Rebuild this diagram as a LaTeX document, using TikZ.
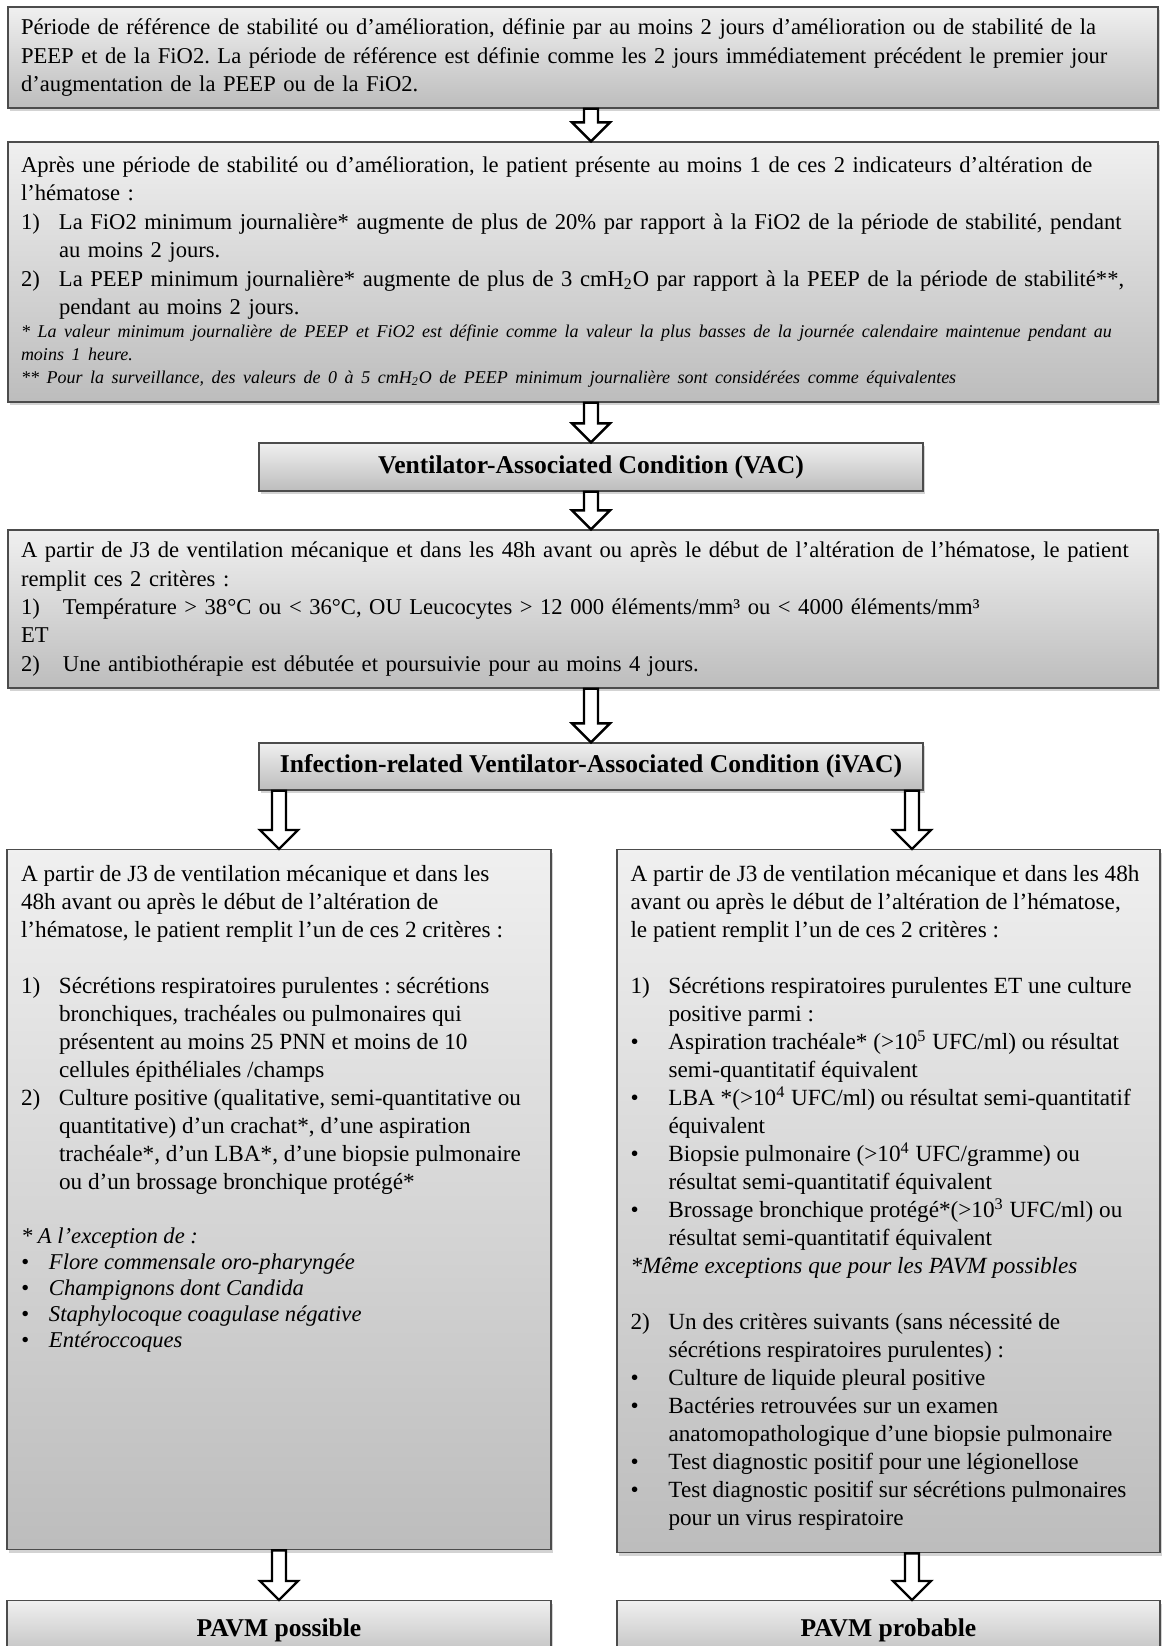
\documentclass[tikz,border=0pt]{standalone}
\usepackage{fontspec}
\setmainfont{Liberation Serif}
\usetikzlibrary{calc,shadows}
\frenchspacing

\newcommand{\numitem}[3][19pt]{\par\hangindent=#1\hangafter=1\noindent\makebox[#1][l]{#2}#3\par}
\newcommand{\notefont}{\fontsize{9}{11.5}\selectfont\itshape}
\newcommand{\blankline}{\par\vspace{\baselineskip}}

\begin{document}
\begin{tikzpicture}[x=0.5pt,y=-0.5pt,
    panel/.style={draw=black!70,line width=0.7pt,top color=black!6,bottom color=black!26,
      drop shadow={shadow xshift=1.2pt,shadow yshift=-1.5pt,opacity=0.35},
      inner sep=0pt,font=\fontsize{11.3}{14.2}\selectfont},
    widebox/.style={panel,minimum width=575pt,text width=562pt,align=left},
    titlebox/.style={panel,minimum width=332pt,font=\fontsize{12.8}{15}\bfseries\selectfont},
    colbox/.style={panel,anchor=north,minimum width=272pt,font=\fontsize{11.6}{14}\selectfont},
    endbox/.style={titlebox,anchor=north,minimum width=272pt,minimum height=30pt},
    hollow/.style={draw=black,fill=white,line width=1.2pt,line join=miter,
      to path={let \p1=(\tikztostart),\p2=(\tikztotarget) in
        (\x1-3.5pt,\y1) -- (\x1-3.5pt,\y2+9.5pt) -- (\x1-9.5pt,\y2+9.5pt) -- (\x1,\y2)
        -- (\x1+9.5pt,\y2+9.5pt) -- (\x1+3.5pt,\y2+9.5pt) -- (\x1+3.5pt,\y1) -- cycle}}]

  \useasboundingbox (0,0) rectangle (1164,1646);

  % upper part
  \node[widebox,minimum height=50.5pt] (ref) at (583,57.5) {Période de référence de stabilité ou d’amélioration, définie par au moins 2 jours d’amélioration ou de stabilité de la\newline PEEP et de la FiO2. La période de référence est définie comme les 2 jours immédiatement précédent le premier jour\newline d’augmentation de la PEEP ou de la FiO2.};

  \node[widebox,minimum height=130pt] (alt) at (583,272) {Après une période de stabilité ou d’amélioration, le patient présente au moins 1 de ces 2 indicateurs d’altération de\newline l’hématose :\par
    \numitem{1)}{La FiO2 minimum journalière* augmente de plus de 20\% par rapport à la FiO2 de la période de stabilité, pendant\newline au moins 2 jours.}
    \numitem{2)}{La PEEP minimum journalière* augmente de plus de 3 cmH\textsubscript{2}O par rapport à la PEEP de la période de stabilité**,\newline pendant au moins 2 jours.}
    {\notefont * La valeur minimum journalière de PEEP et FiO2 est définie comme la valeur la plus basses de la journée calendaire maintenue pendant au\newline moins 1 heure.\par
    ** Pour la surveillance, des valeurs de 0 à 5 cmH\textsubscript{2}O de PEEP minimum journalière sont considérées comme équivalentes\par}};

  \node[titlebox,minimum height=24pt] (vac) at (591,467) {Ventilator-Associated Condition (VAC)};

  \node[widebox,minimum height=79pt] (crit) at (583,609) {A partir de J3 de ventilation mécanique et dans les 48h avant ou après le début de l’altération de l’hématose, le patient\newline remplit ces 2 critères :\par
    \numitem[21pt]{1)}{Température > 38°C ou < 36°C, OU Leucocytes > 12~000 éléments/mm³ ou < 4000 éléments/mm³}
    ET\par
    \numitem[21pt]{2)}{Une antibiothérapie est débutée et poursuivie pour au moins 4 jours.}};

  \node[titlebox,minimum height=23.5pt] (ivac) at (591,766.5) {Infection-related Ventilator-Associated Condition (iVAC)};

  % two columns
  \node[colbox] (poss) at (279,849) {\parbox[c][350pt][t]{258pt}{\raggedright\vspace*{8pt}%
    A partir de J3 de ventilation mécanique et dans les\newline 48h avant ou après le début de l’altération de\newline l’hématose, le patient remplit l’un de ces 2 critères :\par
    \blankline
    \numitem{1)}{Sécrétions respiratoires purulentes : sécrétions\newline bronchiques, trachéales ou pulmonaires qui\newline présentent au moins 25 PNN et moins de 10\newline cellules épithéliales /champs}
    \numitem{2)}{Culture positive (qualitative, semi-quantitative ou\newline quantitative) d’un crachat*, d’une aspiration\newline trachéale*, d’un LBA*, d’une biopsie pulmonaire\newline ou d’un brossage bronchique protégé*}
    \blankline
    {\fontsize{11.3}{13}\selectfont\itshape * A l’exception de :\par
    \numitem[14pt]{\textbullet}{Flore commensale oro-pharyngée}
    \numitem[14pt]{\textbullet}{Champignons dont Candida}
    \numitem[14pt]{\textbullet}{Staphylocoque coagulase négative}
    \numitem[14pt]{\textbullet}{Entéroccoques}}}};

  \node[colbox,minimum width=271.5pt] (prob) at (888.5,849) {\parbox[c][351.5pt][t]{258pt}{\raggedright\vspace*{8pt}%
    A partir de J3 de ventilation mécanique et dans les 48h\newline avant ou après le début de l’altération de l’hématose,\newline le patient remplit l’un de ces 2 critères :\par
    \blankline
    \numitem{1)}{Sécrétions respiratoires purulentes ET une culture\newline positive parmi :}
    \numitem{\textbullet}{Aspiration trachéale* (>10\textsuperscript{5} UFC/ml) ou résultat\newline semi-quantitatif équivalent}
    \numitem{\textbullet}{LBA *(>10\textsuperscript{4} UFC/ml) ou résultat semi-quantitatif\newline équivalent}
    \numitem{\textbullet}{Biopsie pulmonaire (>10\textsuperscript{4} UFC/gramme) ou\newline résultat semi-quantitatif équivalent}
    \numitem{\textbullet}{Brossage bronchique protégé*(>10\textsuperscript{3} UFC/ml) ou\newline résultat semi-quantitatif équivalent}
    {\itshape *Même exceptions que pour les PAVM possibles\par}
    \blankline
    \numitem{2)}{Un des critères suivants (sans nécessité de\newline sécrétions respiratoires purulentes) :}
    \numitem{\textbullet}{Culture de liquide pleural positive}
    \numitem{\textbullet}{Bactéries retrouvées sur un examen\newline anatomopathologique d’une biopsie pulmonaire}
    \numitem{\textbullet}{Test diagnostic positif pour une légionellose}
    \numitem{\textbullet}{Test diagnostic positif sur sécrétions pulmonaires\newline pour un virus respiratoire}}};

  \node[endbox] (pavm1) at (279,1600) {PAVM possible};
  \node[endbox,minimum width=271.5pt] (pavm2) at (888.5,1600) {PAVM probable};

  \coordinate (probin) at ([xshift=11.75pt]prob.north);
  \coordinate (probout) at ([xshift=11.75pt]prob.south);

  % arrows
  \begin{scope}[every edge/.style={hollow}]
    \path (ref.south -| vac.north) edge (alt.north -| vac.north);
    \path (alt.south -| vac.north) edge (vac.north);
    \path (vac.south) edge (crit.north -| vac.south);
    \path (crit.south -| ivac.north) edge (ivac.north);
    \path (ivac.south -| poss.north) edge (poss.north);
    \path (ivac.south -| probin) edge (probin);
    \path (poss.south) edge (pavm1.north);
    \path (probout) edge (probout |- pavm2.north);
  \end{scope}

\end{tikzpicture}
\end{document}
